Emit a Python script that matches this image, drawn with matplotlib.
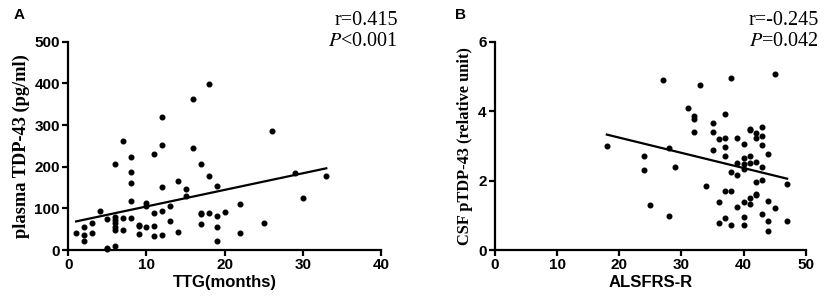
import matplotlib
matplotlib.use('Agg')
import matplotlib.pyplot as plt
import numpy as np

# --- Panel A: TTG vs plasma TDP-43 ---
ttg = [1, 2, 2, 2, 3, 3, 4, 5, 5, 5,
       6, 6, 6, 6, 6, 6, 6, 7, 7, 7,
       8, 8, 8, 8, 8, 9, 9, 9, 10, 10, 10,
       11, 11, 11, 11, 12, 12, 12, 12, 12, 13, 13,
       14, 14, 15, 15, 16, 16, 17, 17, 17, 17,
       18, 18, 18, 19, 19, 19, 19, 20, 22, 22,
       25, 26, 29, 30, 33]
tdp43 = [42, 55, 37, 22, 64, 41, 94, 74, 6, 3,
         80, 72, 64, 56, 48, 10, 206, 263, 77, 48,
         224, 187, 162, 118, 77, 61, 58, 38, 112, 106, 55,
         230, 88, 58, 35, 319, 252, 152, 94, 37, 106, 70,
         165, 44, 146, 130, 362, 246, 206, 90, 87, 62,
         398, 177, 90, 155, 82, 55, 22, 91, 110, 42,
         66, 285, 186, 126, 177]

# --- Panel B: ALSFRS-R vs CSF pTDP-43 ---
alsfrs = [18, 24, 24, 25, 27, 28, 28, 29, 31, 32, 32, 32, 33, 34,
          35, 35, 35, 36, 36, 36, 37, 37, 37, 37, 37, 37,
          38, 38, 38, 38, 39, 39, 39, 39,
          40, 40, 40, 40, 40, 40, 40,
          41, 41, 41, 41, 41, 41,
          42, 42, 42, 42, 42, 42,
          43, 43, 43, 43, 43, 43,
          44, 44, 44, 44, 45, 45, 47, 47]
ptdp43 = [3.0, 2.72, 2.32, 1.30, 4.90, 2.95, 0.98, 2.38, 4.08, 3.86, 3.79, 3.41, 4.76, 1.84,
          3.67, 3.40, 2.88, 3.19, 1.39, 0.78, 3.92, 3.24, 2.98, 2.72, 1.71, 0.93,
          4.96, 2.24, 1.70, 0.71, 3.24, 2.50, 2.16, 1.23,
          3.07, 2.64, 2.47, 2.35, 1.39, 0.96, 0.71,
          3.49, 3.46, 2.72, 2.50, 1.49, 1.34,
          3.38, 3.22, 2.54, 1.97, 1.63, 1.60,
          3.54, 3.29, 3.02, 2.39, 2.02, 1.03,
          2.78, 1.40, 0.85, 0.55, 5.07, 1.20, 1.89, 0.85]

SANS = 'Liberation Sans'
SERIF = 'Liberation Serif'

fig = plt.figure(figsize=(8.29, 3.05), dpi=100)
axA = fig.add_axes([0.0824, 0.180, 0.3772, 0.683])
axB = fig.add_axes([0.597, 0.180, 0.375, 0.683])


def style(ax, xlim, ylim, xticks, yticks):
    ax.set_xlim(*xlim)
    ax.set_ylim(*ylim)
    ax.set_xticks(xticks)
    ax.set_yticks(yticks)
    for s in ['top', 'right']:
        ax.spines[s].set_visible(False)
    for s in ['left', 'bottom']:
        ax.spines[s].set_linewidth(1.6)
    ax.tick_params(direction='out', length=4, width=1.6, labelsize=11, pad=2)
    for lab in ax.get_xticklabels() + ax.get_yticklabels():
        lab.set_family(SANS)
        lab.set_fontweight('bold')


def plot_panel(ax, x, y):
    x = np.array(x, dtype=float)
    y = np.array(y, dtype=float)
    ax.scatter(x, y, s=11, color='black', zorder=3, clip_on=False)
    k, b = np.polyfit(x, y, 1)
    xs = np.array([x.min(), x.max()])
    ax.plot(xs, k * xs + b, color='black', linewidth=1.6)


plot_panel(axA, ttg, tdp43)
style(axA, (0, 40), (0, 500), [0, 10, 20, 30, 40], [0, 100, 200, 300, 400, 500])
axA.set_xlabel('TTG(months)', family=SANS, fontweight='bold', fontsize=12, labelpad=2)
axA.set_ylabel('plasma TDP-43 (pg/ml)', family=SERIF, fontweight='bold', fontsize=13.2, labelpad=3)

plot_panel(axB, alsfrs, ptdp43)
style(axB, (0, 50), (0, 6), [0, 10, 20, 30, 40, 50], [0, 2, 4, 6])
axB.set_xlabel('ALSFRS-R', family=SANS, fontweight='bold', fontsize=12, labelpad=2)
axB.set_ylabel('CSF pTDP-43 (relative unit)', family=SERIF, fontweight='bold', fontsize=11.8, labelpad=4)

# panel letters
fig.text(0.016, 0.975, 'A', family=SANS, fontweight='bold', fontsize=11, va='top')
fig.text(0.549, 0.975, 'B', family=SANS, fontweight='bold', fontsize=11, va='top')

# stats annotations
fig.text(0.480, 0.965, 'r=0.415', family=SERIF, fontsize=14.5, ha='right', va='top')
fig.text(0.480, 0.895, r'$\it{P}$<0.001', family=SERIF, fontsize=14.5, ha='right', va='top',
         math_fontfamily='stix')
fig.text(0.988, 0.965, 'r=-0.245', family=SERIF, fontsize=14.5, ha='right', va='top')
fig.text(0.988, 0.895, r'$\it{P}$=0.042', family=SERIF, fontsize=14.5, ha='right', va='top',
         math_fontfamily='stix')

fig.savefig('out.png', dpi=100)
